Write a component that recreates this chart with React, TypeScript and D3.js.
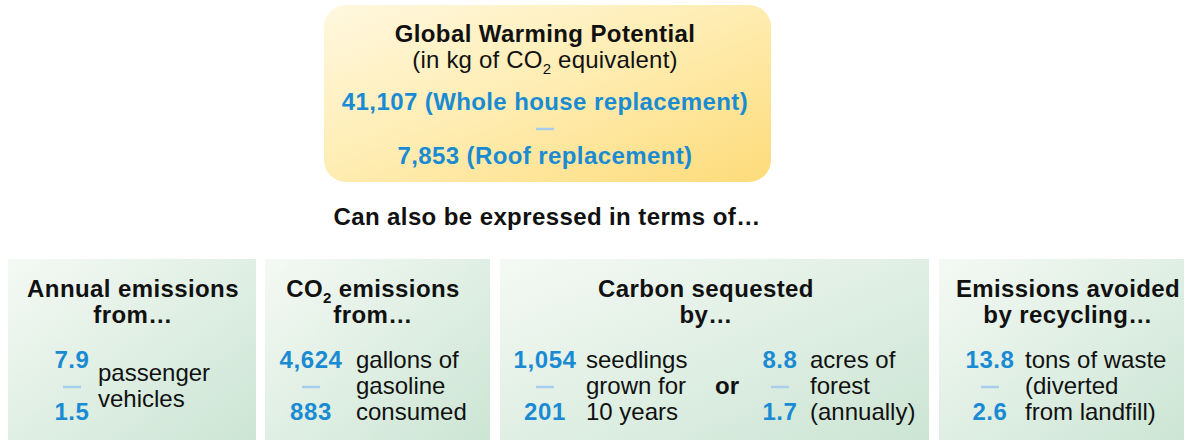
import React from "react";
import * as d3 from "d3";

// ---- data ----
const headline = ["Global Warming Potential"];
const headlineUnitParts = ["(in kg of CO", "2", " equivalent)"];
const totalValues = ["41,107", "7,853"];
const totalLabels = ["Whole house replacement", "Roof replacement"];
const connector = "Can also be expressed in terms of…";
const panelTitles: { main: string; sub?: string; rest?: string }[][] = [
  [{ main: "Annual emissions" }, { main: "from…" }],
  [{ main: "CO", sub: "2", rest: " emissions" }, { main: "from…" }],
  [{ main: "Carbon sequested" }, { main: "by…" }],
  [{ main: "Emissions avoided" }, { main: "by recycling…" }],
];
const highValues = ["7.9", "4,624", "1,054", "8.8", "13.8"];
const lowValues = ["1.5", "883", "201", "1.7", "2.6"];
const unitLines = [
  ["passenger", "vehicles"],
  ["gallons of", "gasoline", "consumed"],
  ["seedlings", "grown for", "10 years"],
  ["acres of", "forest", "(annually)"],
  ["tons of waste", "(diverted", "from landfill)"],
];
const orWord = "or";

// ---- layout ----
const W = 1187;
const H = 440;
const panelX = [
  [8, 256],
  [265, 490],
  [500, 929],
  [939, 1184],
];
const panelTitleCx = [133, 373, 706, 1068];
const groupNumCx = [72, 311, 545, 780, 990];
const groupTextX = [98, 356, 586, 810, 1025];
const orCx = 727;

const BLUE = "#1a8bd3";
const DASH = "#a9cdec";
const INK = "#111111";
const FONT = "'Liberation Sans', Arial, Helvetica, sans-serif";
const LS_BOLD = 0.4;

const rowY = d3.scaleLinear().domain([0, 1]).range([394, 420]); // row index -> baseline
const lineBaseline = (i: number, n: number) => rowY(i - (n - 1) / 2);

export default function App() {
  return (
    <svg
      width={W}
      height={H}
      style={{ position: "absolute", left: 0, top: 0, background: "#ffffff" }}
      fontFamily={FONT}
    >
      <defs>
        <linearGradient id="gold" x1="0" y1="0" x2="1" y2="1">
          <stop offset="0" stopColor="#fff8e0" />
          <stop offset="0.5" stopColor="#feecb0" />
          <stop offset="1" stopColor="#fddb7a" />
        </linearGradient>
        <linearGradient id="mint" x1="0" y1="0" x2="1" y2="1">
          <stop offset="0" stopColor="#f4f9f4" />
          <stop offset="1" stopColor="#cce5d4" />
        </linearGradient>
      </defs>

      {/* top box */}
      <rect x={324} y={5} width={447} height={177} rx={22} ry={22} fill="url(#gold)" />
      <text x={545} y={42} textAnchor="middle" fontSize={24} fontWeight="bold" fill={INK} letterSpacing={LS_BOLD}>
        {headline[0]}
      </text>
      <text x={545} y={68} textAnchor="middle" fontSize={24} fill={INK} letterSpacing={0.2}>
        {headlineUnitParts[0]}
        <tspan fontSize={15} dy={6}>
          {headlineUnitParts[1]}
        </tspan>
        <tspan dy={-6}>{headlineUnitParts[2]}</tspan>
      </text>
      <text x={545} y={110} textAnchor="middle" fontSize={24} fontWeight="bold" fill={BLUE} letterSpacing={LS_BOLD}>
        {`${totalValues[0]} (${totalLabels[0]})`}
      </text>
      <line x1={536} x2={554} y1={129} y2={129} stroke={DASH} strokeWidth={2.5} />
      <text x={545} y={164} textAnchor="middle" fontSize={24} fontWeight="bold" fill={BLUE} letterSpacing={LS_BOLD}>
        {`${totalValues[1]} (${totalLabels[1]})`}
      </text>

      <text x={547} y={225} textAnchor="middle" fontSize={24} fontWeight="bold" fill={INK} letterSpacing={LS_BOLD}>
        {connector}
      </text>

      {/* panels */}
      {panelX.map(([x0, x1], i) => (
        <g key={"p" + i}>
          <rect x={x0} y={259} width={x1 - x0} height={H - 259} fill="url(#mint)" />
          {panelTitles[i].map((t, j) => (
            <text
              key={j}
              x={panelTitleCx[i]}
              y={297 + j * 26}
              textAnchor="middle"
              fontSize={24}
              fontWeight="bold"
              fill={INK}
              letterSpacing={LS_BOLD}
            >
              {t.main}
              {t.sub && (
                <tspan fontSize={15} dy={6}>
                  {t.sub}
                </tspan>
              )}
              {t.rest && <tspan dy={-6}>{t.rest}</tspan>}
            </text>
          ))}
        </g>
      ))}

      {/* value groups */}
      {highValues.map((hv, g) => (
        <g key={"g" + g}>
          <text
            x={groupNumCx[g]}
            y={lineBaseline(0, 3)}
            textAnchor="middle"
            fontSize={24}
            fontWeight="bold"
            fill={BLUE}
            letterSpacing={0.6}
          >
            {hv}
          </text>
          <line
            x1={groupNumCx[g] - 9}
            x2={groupNumCx[g] + 9}
            y1={387}
            y2={387}
            stroke={DASH}
            strokeWidth={2.5}
          />
          <text
            x={groupNumCx[g]}
            y={lineBaseline(2, 3)}
            textAnchor="middle"
            fontSize={24}
            fontWeight="bold"
            fill={BLUE}
            letterSpacing={0.6}
          >
            {lowValues[g]}
          </text>
          {unitLines[g].map((u, k) => (
            <text
              key={k}
              x={groupTextX[g]}
              y={lineBaseline(k, unitLines[g].length)}
              fontSize={24}
              fill={INK}
            >
              {u}
            </text>
          ))}
        </g>
      ))}
      <text x={orCx} y={lineBaseline(1, 3)} textAnchor="middle" fontSize={24} fontWeight="bold" fill={INK}>
        {orWord}
      </text>
    </svg>
  );
}
